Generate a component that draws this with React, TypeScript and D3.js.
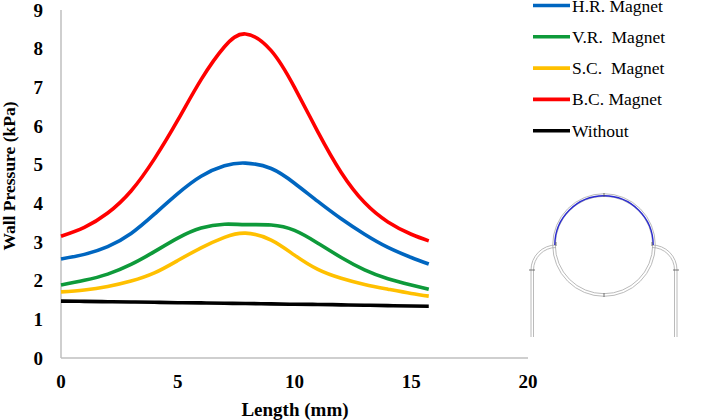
import React from "react";
import * as d3 from "d3";

const lengths = [0, 1, 2, 3, 4, 5, 6, 7, 7.9, 9, 10, 11, 12, 13, 14, 15, 15.75];
const hrMagnet = [2.56, 2.68, 2.88, 3.22, 3.72, 4.25, 4.7, 4.97, 5.04, 4.9, 4.52, 4.05, 3.6, 3.2, 2.86, 2.6, 2.43];
const vrMagnet = [1.89, 2.01, 2.17, 2.42, 2.75, 3.1, 3.36, 3.46, 3.45, 3.44, 3.3, 2.97, 2.6, 2.28, 2.05, 1.89, 1.78];
const scMagnet = [1.71, 1.76, 1.85, 1.99, 2.2, 2.52, 2.85, 3.12, 3.23, 3.05, 2.66, 2.29, 2.06, 1.9, 1.78, 1.67, 1.6];
const bcMagnet = [3.15, 3.38, 3.75, 4.32, 5.15, 6.15, 7.2, 8.05, 8.38, 7.95, 7.0, 5.85, 4.8, 4.02, 3.52, 3.2, 3.03];
const without = [1.47, 1.465, 1.455, 1.45, 1.44, 1.43, 1.425, 1.415, 1.41, 1.4, 1.39, 1.385, 1.375, 1.365, 1.355, 1.345, 1.34];

const seriesNames = ["H.R. Magnet", "V.R.  Magnet", "S.C.  Magnet", "B.C. Magnet", "Without"];
const seriesColors = ["#0066c0", "#0e9a3a", "#ffc000", "#ff0000", "#000000"];
const seriesValues = [hrMagnet, vrMagnet, scMagnet, bcMagnet, without];

const xTicks = [0, 5, 10, 15, 20];
const yTicks = [0, 1, 2, 3, 4, 5, 6, 7, 8, 9];

export default function App() {
  const W = 721, H = 420;
  const x = d3.scaleLinear().domain([0, 20]).range([61, 528]);
  const y = d3.scaleLinear().domain([0, 9]).range([358, 10]);
  const line = d3
    .line<[number, number]>()
    .x((d) => x(d[0]))
    .y((d) => y(d[1]))
    .curve(d3.curveNatural);

  const serif = "'Liberation Serif', 'Times New Roman', serif";

  // inset geometry
  const cx = 604, cy = 245, r = 50;
  const arcTop = d3.arc()({ innerRadius: r - 0.8, outerRadius: r - 0.8, startAngle: -Math.PI / 2, endAngle: Math.PI / 2 }) as string;
  const pipeColor = "#a8a8a8";
  const pipe = (side: number, rr: number) => {
    const ccx = cx + side * 48;
    const ccy = 270;
    const startY = ccy - rr;
    const endX = ccx + side * rr;
    return `M${ccx},${startY} A${rr},${rr} 0 0 ${side < 0 ? 0 : 1} ${endX},${ccy} L${endX},337`;
  };

  return (
    <svg width={W} height={H} style={{ position: "absolute", left: 0, top: 0, background: "#fff" }}>
      {/* axes */}
      <line x1={x(0)} x2={x(0)} y1={y(9)} y2={y(0)} stroke="#bfbfbf" strokeWidth={1.5} />
      <line x1={x(0)} x2={x(20)} y1={y(0)} y2={y(0)} stroke="#bfbfbf" strokeWidth={1.5} />
      {yTicks.map((t) => (
        <text key={"y" + t} x={43} y={y(t) + 6.5} textAnchor="end" fontFamily={serif} fontWeight="bold" fontSize={19}>
          {t}
        </text>
      ))}
      {xTicks.map((t) => (
        <text key={"x" + t} x={x(t)} y={388} textAnchor="middle" fontFamily={serif} fontWeight="bold" fontSize={19}>
          {t}
        </text>
      ))}
      <text x={295} y={416} textAnchor="middle" fontFamily={serif} fontWeight="bold" fontSize={19}>
        Length (mm)
      </text>
      <text transform="translate(15,176) rotate(-90)" textAnchor="middle" fontFamily={serif} fontWeight="bold" fontSize={17.5}>
        Wall Pressure (kPa)
      </text>

      {/* series */}
      {seriesValues.map((vals, i) => (
        <path
          key={seriesNames[i]}
          d={line(lengths.map((l, j) => [l, vals[j]] as [number, number])) as string}
          fill="none"
          stroke={seriesColors[i]}
          strokeWidth={3.6}
        />
      ))}

      {/* legend */}
      {seriesNames.map((n, i) => {
        const ly = 5.5 + i * 31.3;
        return (
          <g key={"lg" + n}>
            <line x1={533} x2={570} y1={ly} y2={ly} stroke={seriesColors[i]} strokeWidth={3.6} />
            <text x={572} y={ly + 6} fontFamily={serif} fontSize={17.5} xmlSpace="preserve">
              {n}
            </text>
          </g>
        );
      })}

      {/* inset */}
      <g fill="none" stroke={pipeColor} strokeWidth={0.8}>
        <circle cx={cx} cy={cy} r={r - 1.3} />
        <circle cx={cx} cy={cy} r={r + 1.3} />
        <path d={pipe(-1, 22.5)} />
        <path d={pipe(-1, 25)} />
        <path d={pipe(1, 22.5)} />
        <path d={pipe(1, 25)} />
      </g>
      <path d={arcTop} transform={`translate(${cx},${cy})`} fill="none" stroke="#2b2bd0" strokeWidth={1.4} />
      <g stroke="#555" strokeWidth={0.8}>
        <line x1={cx} x2={cx} y1={cy - r - 2} y2={cy - r + 2} />
        <line x1={cx} x2={cx} y1={cy + r - 2} y2={cy + r + 2} />
        <line x1={cx - 48} x2={cx - 48} y1={cy - 3} y2={cy + 1} />
        <line x1={cx + 48} x2={cx + 48} y1={cy - 3} y2={cy + 1} />
        <line x1={529} x2={535} y1={270} y2={270} />
        <line x1={673} x2={679} y1={270} y2={270} />
      </g>
    </svg>
  );
}
